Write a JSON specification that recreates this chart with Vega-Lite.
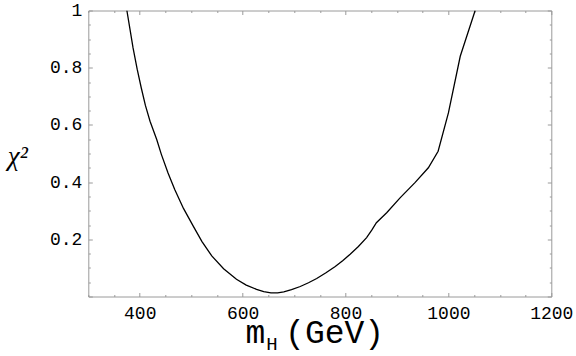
{
  "$schema": "https://vega.github.io/schema/vega-lite/v6.json",
  "width": 463,
  "height": 286,
  "autosize": {"type": "none"},
  "padding": {"left": 88.3, "top": 10.5, "right": 24.7, "bottom": 59.5},
  "background": "white",
  "config": {
    "view": {"stroke": "#9a9a9a", "strokeWidth": 1},
    "axis": {
      "domain": false,
      "grid": false,
      "tickColor": "#9a9a9a",
      "tickWidth": 1,
      "labelFont": "Liberation Mono",
      "labelFontSize": 18,
      "labelColor": "black"
    }
  },
  "layer": [
    {
      "data": {"name": "curve", "values": [
        {"mH": 375, "chi2": 1.0},
        {"mH": 381, "chi2": 0.935},
        {"mH": 387, "chi2": 0.869},
        {"mH": 395, "chi2": 0.795},
        {"mH": 403, "chi2": 0.729},
        {"mH": 411, "chi2": 0.668},
        {"mH": 420, "chi2": 0.613},
        {"mH": 433, "chi2": 0.549},
        {"mH": 442, "chi2": 0.497},
        {"mH": 455, "chi2": 0.432},
        {"mH": 468, "chi2": 0.374},
        {"mH": 485, "chi2": 0.308},
        {"mH": 504, "chi2": 0.246},
        {"mH": 521, "chi2": 0.192},
        {"mH": 540, "chi2": 0.142},
        {"mH": 563, "chi2": 0.097},
        {"mH": 588, "chi2": 0.060},
        {"mH": 607, "chi2": 0.040},
        {"mH": 627, "chi2": 0.025},
        {"mH": 641, "chi2": 0.017},
        {"mH": 655, "chi2": 0.013},
        {"mH": 668, "chi2": 0.013},
        {"mH": 680, "chi2": 0.016},
        {"mH": 695, "chi2": 0.024},
        {"mH": 712, "chi2": 0.035},
        {"mH": 728, "chi2": 0.048},
        {"mH": 744, "chi2": 0.063},
        {"mH": 762, "chi2": 0.083},
        {"mH": 780, "chi2": 0.105},
        {"mH": 795, "chi2": 0.126},
        {"mH": 809, "chi2": 0.148},
        {"mH": 825, "chi2": 0.175},
        {"mH": 841, "chi2": 0.206},
        {"mH": 851, "chi2": 0.232},
        {"mH": 860, "chi2": 0.258},
        {"mH": 880, "chi2": 0.293},
        {"mH": 906, "chi2": 0.345},
        {"mH": 935, "chi2": 0.398},
        {"mH": 961, "chi2": 0.45},
        {"mH": 980, "chi2": 0.508},
        {"mH": 1000, "chi2": 0.642},
        {"mH": 1023, "chi2": 0.84},
        {"mH": 1052, "chi2": 1.0}
      ]},
      "mark": {"type": "line", "color": "black", "strokeWidth": 1.3, "clip": true},
      "encoding": {
        "x": {
          "field": "mH", "type": "quantitative",
          "scale": {"domain": [300, 1200], "nice": false, "zero": false},
          "axis": {
            "orient": "bottom",
            "values": [300,350,400,450,500,550,600,650,700,750,800,850,900,950,1000,1050,1100,1150,1200],
            "format": "d",
            "labelExpr": "datum.value % 200 === 0 ? datum.label : ''",
            "tickSize": {"condition": {"test": "datum.value % 200 === 0", "value": -4}, "value": -2},
            "labelPadding": 12,
            "labelFlush": false,
            "labelOverlap": false,
            "title": "m (GeV)",
            "titleFont": "Liberation Mono",
            "titleFontSize": 33,
            "titleFontWeight": "normal",
            "titleColor": "black",
            "titleAnchor": "start",
            "titleAlign": "center",
            "titleBaseline": "alphabetic",
            "titleX": 226,
            "titleY": 45.5
          }
        },
        "y": {
          "field": "chi2", "type": "quantitative",
          "scale": {"domain": [0, 1], "nice": false},
          "axis": {
            "orient": "left",
            "values": [0,0.05,0.1,0.15,0.2,0.25,0.3,0.35,0.4,0.45,0.5,0.55,0.6,0.65,0.7,0.75,0.8,0.85,0.9,0.95,1],
            "format": "~g",
            "labelExpr": "(datum.value > 0.01 && abs(datum.value*5 - round(datum.value*5)) < 0.001) ? datum.label : ''",
            "tickSize": {"condition": {"test": "abs(datum.value*5 - round(datum.value*5)) < 0.001", "value": -4}, "value": -2},
            "labelPadding": 10.5,
            "labelFlush": false,
            "labelOverlap": false,
            "labelBaseline": "middle",
            "title": "χ²",
            "titleFont": "Liberation Serif",
            "titleFontStyle": "italic",
            "titleFontSize": 27,
            "titleFontWeight": "normal",
            "titleColor": "black",
            "titleAngle": 0,
            "titleAlign": "left",
            "titleBaseline": "alphabetic",
            "titleX": -81,
            "titleY": 153.5
          }
        }
      }
    },
    {
      "data": {"name": "curve"},
      "mark": {"type": "line", "strokeOpacity": 0, "clip": true},
      "encoding": {
        "x": {
          "field": "mH", "type": "quantitative",
          "scale": {"domain": [300, 1200], "nice": false, "zero": false},
          "axis": {
            "orient": "top",
            "values": [300,350,400,450,500,550,600,650,700,750,800,850,900,950,1000,1050,1100,1150,1200],
            "labels": false,
            "tickSize": {"condition": {"test": "datum.value % 200 === 0", "value": -4}, "value": -2},
            "title": null
          }
        },
        "y": {
          "field": "chi2", "type": "quantitative",
          "scale": {"domain": [0, 1], "nice": false},
          "axis": {
            "orient": "right",
            "values": [0,0.05,0.1,0.15,0.2,0.25,0.3,0.35,0.4,0.45,0.5,0.55,0.6,0.65,0.7,0.75,0.8,0.85,0.9,0.95,1],
            "labels": false,
            "tickSize": {"condition": {"test": "abs(datum.value*5 - round(datum.value*5)) < 0.001", "value": -4}, "value": -2},
            "title": null
          }
        }
      }
    },
    {
      "data": {"values": [{"label": "H"}]},
      "mark": {"type": "text", "font": "Liberation Mono", "fontSize": 19, "color": "black", "align": "center", "baseline": "alphabetic", "clip": false},
      "encoding": {
        "text": {"field": "label"},
        "x": {"datum": 657, "axis": null},
        "y": {"datum": -0.188, "axis": null}
      }
    }
  ],
  "resolve": {"axis": {"x": "independent", "y": "independent"}}
}
